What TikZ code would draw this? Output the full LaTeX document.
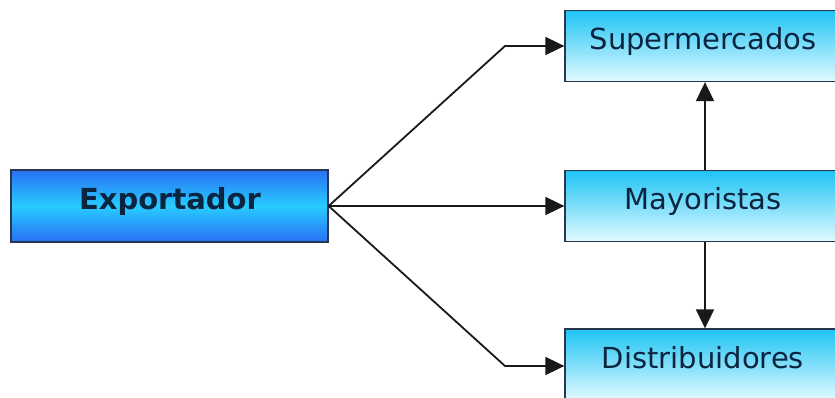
\documentclass[tikz,border=0pt]{standalone}
\usepackage{fontspec}
\setmainfont{DejaVu Sans}
\usetikzlibrary{arrows.meta}
\definecolor{txt}{HTML}{0B2440}
\definecolor{edge}{HTML}{2A3550}
\definecolor{lout}{HTML}{2870F5}
\definecolor{lmid}{HTML}{28CCFF}
\definecolor{rtop}{HTML}{1EC4F4}
\definecolor{rbot}{HTML}{E2FAFF}
\tikzset{
  x=1pt,y=-1pt,
  leftbox/.style={draw=edge,line width=1.3pt,minimum width=317pt,minimum height=72pt,inner sep=0pt,
    top color=lout,bottom color=lout,middle color=lmid},
  rightbox/.style={draw=edge,line width=1.3pt,minimum width=280pt,minimum height=71pt,inner sep=0pt,
    top color=rtop,bottom color=rbot},
  lbl/.style={text=txt,anchor=base,inner sep=0pt,font=\fontsize{29}{32}\selectfont},
  conn/.style={draw=black!90,line width=1.8pt},
  arr/.style={conn,-{Triangle[length=19pt,width=18pt]}}
}
\begin{document}
\begin{tikzpicture}
\useasboundingbox (0,0) rectangle (835,398);
\clip (0,0) rectangle (835,398);
\node[leftbox] (exp) at (169.5,206) {};
\node[rightbox] (sup) at (705,46) {};
\node[rightbox] (may) at (705,206) {};
\node[rightbox] (dis) at (705,364.5) {};
\node[lbl,font=\fontsize{29}{32}\selectfont\bfseries] (exptxt) at (170,210) {Exportador};
\node[lbl] (suptxt) at (703,50) {Supermercados};
\node[lbl] (maytxt) at (703,210) {Mayoristas};
\node[lbl] (distxt) at (703,368) {Distribuidores};
\coordinate (c1) at (505,46);
\coordinate (c3) at (505,366);
\draw[arr] (exp.east) -- (c1) -- (sup.west |- c1);
\draw[arr] (exp.east) -- (may.west);
\draw[arr] (exp.east) -- (c3) -- (dis.west |- c3);
\draw[arr] (may.north) -- (sup.south);
\draw[arr] (may.south) -- (dis.north);
\end{tikzpicture}
\end{document}
